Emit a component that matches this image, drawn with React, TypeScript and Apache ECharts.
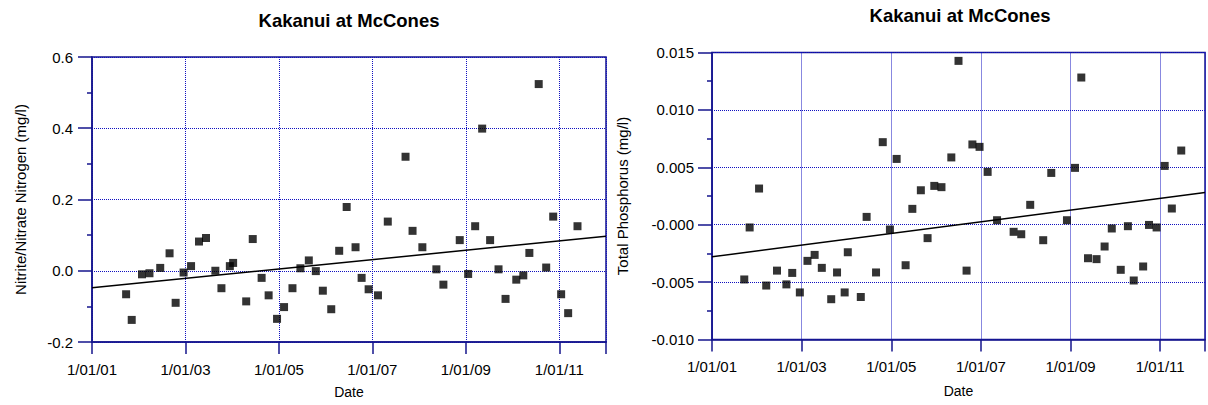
import React, { useEffect, useRef } from "react";
import * as echarts from "echarts";

const chartTitle = "Kakanui at McCones";
const xAxisName = "Date";
const startYear = 2001;
const endYear = 2012;
const xTickLabels = ["1/01/01", "1/01/03", "1/01/05", "1/01/07", "1/01/09", "1/01/11"];

// Left panel: Nitrite/Nitrate Nitrogen
const nitrateName = "Nitrite/Nitrate Nitrogen (mg/l)";
const nitrateYTicks = ["-0.2", "0.0", "0.2", "0.4", "0.6"];
const nitrateYears = [
  2001.73, 2001.85, 2002.07, 2002.23, 2002.46, 2002.66, 2002.79, 2002.96, 2003.12, 2003.29,
  2003.44, 2003.64, 2003.77, 2003.95, 2004.02, 2004.3, 2004.44, 2004.63, 2004.78, 2004.96,
  2005.11, 2005.29, 2005.46, 2005.64, 2005.79, 2005.94, 2006.12, 2006.29, 2006.45, 2006.64,
  2006.77, 2006.92, 2007.12, 2007.33, 2007.71, 2007.86, 2008.07, 2008.37, 2008.52, 2008.87,
  2009.05, 2009.2, 2009.35, 2009.52, 2009.7, 2009.85, 2010.08, 2010.23, 2010.36, 2010.56,
  2010.72, 2010.87, 2011.04, 2011.19, 2011.39,
];
const nitrateValues = [
  -0.066, -0.138, -0.01, -0.007, 0.008, 0.049, -0.09, -0.005, 0.013, 0.082,
  0.092, 0.0, -0.049, 0.013, 0.022, -0.086, 0.089, -0.02, -0.069, -0.135,
  -0.102, -0.049, 0.007, 0.029, -0.001, -0.056, -0.108, 0.056, 0.179, 0.066,
  -0.02, -0.052, -0.069, 0.138, 0.32, 0.112, 0.066, 0.004, -0.039, 0.086,
  -0.009, 0.125, 0.399, 0.086, 0.004, -0.079, -0.025, -0.013, 0.05, 0.524,
  0.009, 0.152, -0.066, -0.119, 0.125,
];
const nitrateTrendYears = [2001, 2012];
const nitrateTrendValues = [-0.048, 0.097];

// Right panel: Total Phosphorus
const phosName = "Total Phosphorus (mg/l)";
const phosYTicks = ["-0.010", "-0.005", "-0.000", "0.005", "0.010", "0.015"];
const phosYears = [
  2001.72, 2001.84, 2002.05, 2002.21, 2002.45, 2002.66, 2002.79, 2002.96, 2003.13, 2003.29,
  2003.45, 2003.66, 2003.79, 2003.96, 2004.03, 2004.32, 2004.45, 2004.66, 2004.81, 2004.97,
  2005.12, 2005.32, 2005.47, 2005.66, 2005.81, 2005.96, 2006.12, 2006.34, 2006.5, 2006.68,
  2006.81, 2006.97, 2007.15, 2007.36, 2007.73, 2007.9, 2008.1, 2008.39, 2008.57, 2008.92,
  2009.1, 2009.24, 2009.39, 2009.58, 2009.76, 2009.92, 2010.12, 2010.28, 2010.41, 2010.62,
  2010.75, 2010.92, 2011.1, 2011.26, 2011.47,
];
const phosValues = [
  -0.00477, -0.00024, 0.00315, -0.0053, -0.004, -0.0052, -0.0042, -0.0059, -0.00315, -0.00263,
  -0.00376, -0.00649, -0.00416, -0.0059, -0.0024, -0.0063, 0.00068, -0.00416, 0.00719, -0.00042,
  0.00573, -0.00353, 0.00138, 0.003, -0.00117, 0.00338, 0.00327, 0.00586, 0.01427, -0.004,
  0.00699, 0.00678, 0.0046, 0.00039, -0.00062, -0.00083, 0.00173, -0.00135, 0.00451, 0.00039,
  0.00495, 0.01282, -0.00292, -0.003, -0.0019, -0.00033, -0.00393, -0.00013, -0.00486, -0.00364,
  -0.00002, -0.00024, 0.00512, 0.00141, 0.00646,
];
const phosTrendYears = [2001, 2012];
const phosTrendValues = [-0.0028, 0.0028];

const NAVY = "#15158c";
const GRID_BLUE = "#1010c0";
const FONT = "'Liberation Sans', Arial, sans-serif";

function pairs(years: number[], values: number[]) {
  return years.map((y, i) => [y - startYear, values[i]]);
}

function makeX(gridIndex: number, labelMargin: number, nameGap: number) {
  return {
    type: "value",
    gridIndex,
    min: 0,
    max: endYear - startYear,
    interval: 2,
    name: xAxisName,
    nameLocation: "middle",
    nameGap,
    nameTextStyle: { color: "#000", fontSize: 14, fontFamily: FONT },
    axisLine: { show: true, onZero: false, lineStyle: { color: NAVY, width: 1.5 } },
    axisTick: { show: true, length: 12, lineStyle: { color: NAVY, width: 1.5 } },
    axisLabel: {
      color: "#000",
      fontSize: 15,
      fontFamily: FONT,
      margin: labelMargin,
      formatter: (v: number) => xTickLabels[Math.round(v / 2)] ?? "",
    },
    splitLine: { show: true, lineStyle: { color: GRID_BLUE, type: "dotted", width: 1 } },
  };
}

function makeY(
  gridIndex: number,
  min: number,
  max: number,
  interval: number,
  ticks: string[],
  name: string,
  nameGap: number,
  labelMargin: number
) {
  return {
    type: "value",
    gridIndex,
    min,
    max,
    interval,
    name,
    nameLocation: "middle",
    nameGap,
    nameTextStyle: { color: "#000", fontSize: 15, fontFamily: FONT },
    axisLine: { show: true, onZero: false, lineStyle: { color: NAVY, width: 1.5 } },
    axisTick: { show: true, length: 14, lineStyle: { color: NAVY, width: 1.5 } },
    minorTick: { show: true, splitNumber: 2, length: 5, lineStyle: { color: NAVY, width: 1.5 } },
    axisLabel: {
      color: "#000",
      fontSize: 15,
      fontFamily: FONT,
      margin: labelMargin,
      formatter: (v: number) => ticks[Math.round((v - min) / interval)] ?? "",
    },
    splitLine: { show: true, lineStyle: { color: GRID_BLUE, type: "dotted", width: 1 } },
  };
}

export default function App() {
  const ref = useRef<HTMLDivElement>(null);
  useEffect(() => {
    document.body.style.margin = "0";
    if (!ref.current) return;
    const chart = echarts.init(ref.current, undefined, { renderer: "svg" });
    const titleStyle = { fontSize: 18.5, fontWeight: "bold", fontFamily: FONT, color: "#000", lineHeight: 19 };
    chart.setOption({
      animation: false,
      backgroundColor: "#fff",
      title: [
        { text: chartTitle, left: 349, top: 11, padding: 0, textAlign: "center", textStyle: titleStyle },
        { text: chartTitle, left: 960, top: 6, padding: 0, textAlign: "center", textStyle: titleStyle },
      ],
      grid: [
        { left: 92, top: 57, width: 514, height: 285, show: true, borderColor: NAVY, borderWidth: 1.5, backgroundColor: "#fff" },
        { left: 712, top: 52.5, width: 495, height: 287, show: true, borderColor: NAVY, borderWidth: 1.5, backgroundColor: "#fff" },
      ],
      xAxis: [makeX(0, 20, 43), makeX(1, 19, 44)],
      yAxis: [
        makeY(0, -0.2, 0.6, 0.2, nitrateYTicks, nitrateName, 64, 19),
        makeY(1, -0.01, 0.015, 0.005, phosYTicks, phosName, 82, 18),
      ],
      series: [
        {
          type: "scatter",
          xAxisIndex: 0,
          yAxisIndex: 0,
          symbol: "rect",
          symbolSize: 8,
          itemStyle: { color: "#000" },
          data: pairs(nitrateYears, nitrateValues),
          z: 3,
        },
        {
          type: "line",
          xAxisIndex: 0,
          yAxisIndex: 0,
          symbol: "none",
          lineStyle: { color: "#000", width: 1.5 },
          data: pairs(nitrateTrendYears, nitrateTrendValues),
          z: 2,
        },
        {
          type: "scatter",
          xAxisIndex: 1,
          yAxisIndex: 1,
          symbol: "rect",
          symbolSize: 8,
          itemStyle: { color: "#000" },
          data: pairs(phosYears, phosValues),
          z: 3,
        },
        {
          type: "line",
          xAxisIndex: 1,
          yAxisIndex: 1,
          symbol: "none",
          lineStyle: { color: "#000", width: 1.5 },
          data: pairs(phosTrendYears, phosTrendValues),
          z: 2,
        },
      ],
    });
    return () => chart.dispose();
  }, []);
  return <div ref={ref} style={{ width: 1208, height: 405 }} />;
}
